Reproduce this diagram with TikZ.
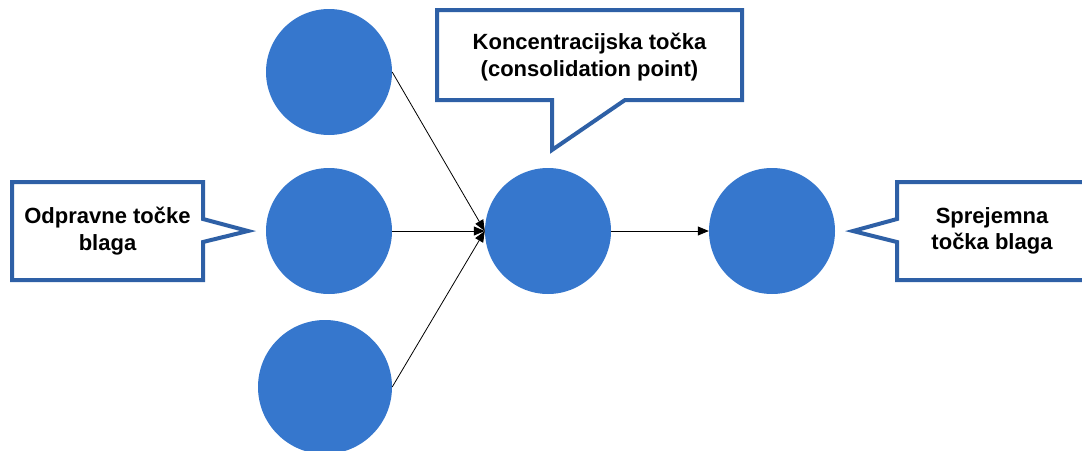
\documentclass[tikz,border=0pt]{standalone}
\usepackage{fontspec}
\setmainfont{Liberation Sans}
\usetikzlibrary{arrows.meta}
\definecolor{dotblue}{RGB}{54,119,205}
\definecolor{framblue}{RGB}{46,96,166}
\tikzset{
  dot/.style={circle, fill=dotblue, draw=none, minimum size=126pt, inner sep=0pt},
  bubble/.style={draw=framblue, line width=4pt, fill=white, line join=miter},
  label/.style={font=\fontsize{22}{26.5}\selectfont\bfseries, align=center, text=black},
  flow/.style={draw=black, line width=0.8pt, -{Triangle[length=11pt,width=9pt]}}
}
\begin{document}
\begin{tikzpicture}[x=1pt,y=-1pt]
\useasboundingbox (0,0) rectangle (1082,450);

% sending points
\node[dot] (s1) at (329,72) {};
\node[dot] (s2) at (329,231) {};
\node[dot, minimum size=134pt] (s3) at (325,387) {};
% consolidation point and receiving point
\node[dot] (cp) at (548,231) {};
\node[dot] (rp) at (772,231) {};

% flows
\draw[flow] (s1.east) -- (cp.west);
\draw[flow] (s2.east) -- (cp.west);
\draw[flow] (s3.east) -- (cp.west);
\draw[flow] (cp.east) -- (rp.west);

% left callout
\draw[bubble] (12,182) -- (203,182) -- (203,219) -- (248,231) -- (203,242)
  -- (203,280) -- (12,280) -- cycle;
\node[label] (lt) at (107.5,231) {Odpravne točke\\blaga};

% top callout
\draw[bubble] (437,10) -- (742,10) -- (742,100) -- (625,100) -- (552,150)
  -- (552,100) -- (437,100) -- cycle;
\node[label] (tt) at (589.5,57) {Koncentracijska točka\\(consolidation point)};

% right callout
\draw[bubble] (897,182) -- (1090,182) -- (1090,280) -- (897,280) -- (897,242)
  -- (853,231) -- (897,219) -- cycle;
\node[label] (rt) at (992,231) {Sprejemna\\točka blaga};
\end{tikzpicture}
\end{document}
